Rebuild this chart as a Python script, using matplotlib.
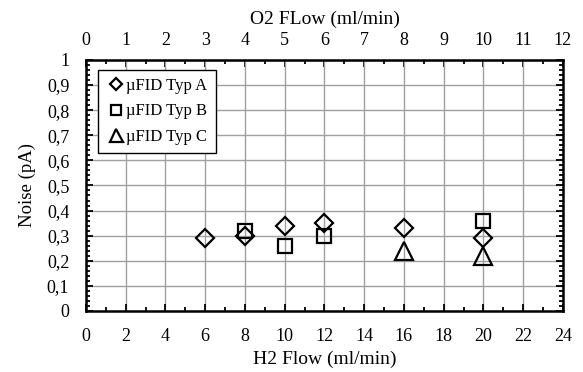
import matplotlib
matplotlib.use("Agg")
import matplotlib.pyplot as plt
from matplotlib.ticker import MultipleLocator, FixedLocator, FuncFormatter

plt.rcParams['font.family'] = ['Liberation Serif', 'DejaVu Serif']
plt.rcParams['font.size'] = 13

# H2 flow (ml/min) and noise (pA) per detector type
h2_a = [6, 8, 10, 12, 16, 20]
noise_a = [0.29, 0.30, 0.34, 0.35, 0.33, 0.29]
h2_b = [8, 10, 12, 20]
noise_b = [0.32, 0.26, 0.30, 0.36]
h2_c = [16, 20]
noise_c = [0.24, 0.22]
o2_ticks = list(range(0, 13))

fig = plt.figure(figsize=(5.83, 3.72), dpi=100)
ax = fig.add_axes([0.1475, 0.164, 0.818, 0.675])

ax.plot(h2_a, noise_a, linestyle='none', marker='D', markersize=9,
        markerfacecolor='none', markeredgecolor='black', markeredgewidth=1.6,
        label='\u00b5FID Typ A', zorder=5)
ax.plot(h2_b, noise_b, linestyle='none', marker='s', markersize=10,
        markerfacecolor='none', markeredgecolor='black', markeredgewidth=1.6,
        label='\u00b5FID Typ B', zorder=5)
ax.plot(h2_c, noise_c, linestyle='none', marker='^', markersize=13,
        markerfacecolor='none', markeredgecolor='black', markeredgewidth=1.6,
        label='\u00b5FID Typ C', zorder=5)

ax.set_xlim(0, 24)
ax.set_ylim(0, 1)
ax.xaxis.set_major_locator(MultipleLocator(2))
ax.xaxis.set_minor_locator(MultipleLocator(1))
ax.yaxis.set_major_locator(MultipleLocator(0.1))
ax.yaxis.set_minor_locator(MultipleLocator(0.02))
ax.yaxis.set_major_formatter(FuncFormatter(
    lambda v, p: '0' if abs(v) < 1e-9 else ('1' if abs(v - 1) < 1e-9 else f'{v:.1f}'.replace('.', ','))))

ax.grid(True, which='major', color='#a0a0a0', linewidth=1.0)
ax.set_axisbelow(True)

ax.tick_params(which='both', direction='in', color='black', width=1.3, pad=12)
ax.tick_params(which='major', length=5)
ax.tick_params(which='minor', length=3)
ax.tick_params(axis='y', which='both', right=True, labelright=False)
ax.tick_params(axis='x', which='both', top=False)
for s in ax.spines.values():
    s.set_linewidth(1.8)

ax.set_xlabel('H2 Flow (ml/min)', labelpad=4, fontsize=14)
ax.set_ylabel('Noise (pA)', labelpad=8, fontsize=13.5)

# O2 flow on the top axis, half of the H2 flow
top = ax.secondary_xaxis('top', functions=(lambda x: x / 2, lambda x: x * 2))
top.xaxis.set_major_locator(FixedLocator(o2_ticks))
top.xaxis.set_minor_locator(FixedLocator([t + 0.5 for t in o2_ticks[:-1]]))
top.tick_params(which='both', direction='in', width=1.3, pad=8)
top.tick_params(which='major', length=5)
top.tick_params(which='minor', length=3)
top.set_xlabel('O2 FLow (ml/min)', labelpad=6, fontsize=14)

leg = ax.legend(loc='upper left', bbox_to_anchor=(0.025, 0.96), frameon=True,
                fancybox=False, edgecolor='black', framealpha=1, fontsize=12,
                handlelength=1.2, handletextpad=0.0, borderpad=0.5,
                borderaxespad=0, labelspacing=0.55, markerscale=0.72)
leg.get_frame().set_linewidth(1.0)

fig.savefig('out.png', dpi=100)
